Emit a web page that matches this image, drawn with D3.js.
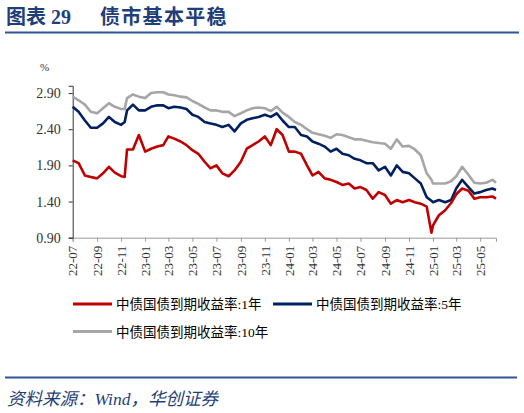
<!DOCTYPE html>
<html>
<head>
<meta charset="utf-8">
<script src="https://cdn.jsdelivr.net/npm/d3@7"></script>
<style>
  body { margin: 0; background: #fff; }
  svg { display: block; }
</style>
</head>
<body>
<svg id="chart"></svg>
<script>
// semi-monthly readings (plus a couple of turning points)
const dates = [
  '2022-07-01', '2022-07-16', '2022-08-01', '2022-08-16', '2022-09-01', '2022-09-16',
  '2022-10-01', '2022-10-16', '2022-11-01', '2022-11-10', '2022-11-16', '2022-12-01',
  '2022-12-16', '2023-01-01', '2023-01-16', '2023-02-01', '2023-02-16', '2023-03-01',
  '2023-03-16', '2023-04-01', '2023-04-16', '2023-05-01', '2023-05-16', '2023-06-01',
  '2023-06-16', '2023-07-01', '2023-07-16', '2023-08-01', '2023-08-16', '2023-09-01',
  '2023-09-16', '2023-10-01', '2023-10-16', '2023-11-01', '2023-11-16', '2023-12-01',
  '2023-12-16', '2024-01-01', '2024-01-16', '2024-02-01', '2024-02-16', '2024-03-01',
  '2024-03-16', '2024-04-01', '2024-04-16', '2024-05-01', '2024-05-16', '2024-06-01',
  '2024-06-16', '2024-07-01', '2024-07-16', '2024-08-01', '2024-08-16', '2024-09-01',
  '2024-09-16', '2024-10-01', '2024-10-16', '2024-11-01', '2024-11-16', '2024-12-01',
  '2024-12-16', '2024-12-28', '2025-01-01', '2025-01-16', '2025-02-01', '2025-02-16',
  '2025-03-01', '2025-03-16', '2025-04-01', '2025-04-16', '2025-05-01', '2025-05-16',
  '2025-06-01', '2025-06-10'
];

const y1 = [
  1.97, 1.93, 1.76, 1.74, 1.72, 1.79,
  1.88, 1.80, 1.75, 1.74, 2.12, 2.12,
  2.32, 2.09, 2.13, 2.16, 2.18, 2.30,
  2.27, 2.23, 2.18, 2.11, 2.06, 1.95,
  1.86, 1.90, 1.79, 1.75, 1.83, 1.95,
  2.13, 2.18, 2.23, 2.30, 2.18, 2.40,
  2.32, 2.09, 2.09, 2.06, 1.90, 1.76,
  1.81, 1.72, 1.70, 1.67, 1.63, 1.65,
  1.58, 1.60, 1.56, 1.44, 1.53, 1.49,
  1.37, 1.42, 1.39, 1.42, 1.39, 1.37,
  1.33, 0.97, 1.07, 1.21, 1.28, 1.38,
  1.50, 1.58, 1.55, 1.44, 1.46, 1.46,
  1.47, 1.44
];

const y5 = [
  2.71, 2.64, 2.52, 2.42, 2.42, 2.48,
  2.57, 2.50, 2.46, 2.50, 2.66, 2.74,
  2.66, 2.66, 2.71, 2.73, 2.73, 2.69,
  2.71, 2.70, 2.68, 2.60, 2.57, 2.50,
  2.48, 2.46, 2.43, 2.46, 2.37, 2.48,
  2.53, 2.55, 2.57, 2.60, 2.57, 2.62,
  2.52, 2.43, 2.43, 2.32, 2.30, 2.23,
  2.20, 2.16, 2.09, 2.13, 2.06, 2.04,
  1.99, 1.97, 1.93, 1.93, 1.83, 1.88,
  1.76, 1.90, 1.81, 1.79, 1.72, 1.65,
  1.46, 1.41, 1.39, 1.42, 1.39, 1.42,
  1.58, 1.70, 1.60, 1.51, 1.53, 1.56,
  1.58, 1.56
];

const y10 = [
  2.85, 2.80, 2.74, 2.64, 2.62, 2.69,
  2.76, 2.71, 2.68, 2.68, 2.83, 2.88,
  2.85, 2.83, 2.90, 2.91, 2.91, 2.88,
  2.87, 2.85, 2.84, 2.79, 2.75, 2.70,
  2.66, 2.66, 2.64, 2.64, 2.58, 2.62,
  2.66, 2.69, 2.70, 2.69, 2.65, 2.71,
  2.63, 2.57, 2.50, 2.46, 2.40, 2.35,
  2.33, 2.31, 2.28, 2.33, 2.32, 2.29,
  2.26, 2.26, 2.24, 2.22, 2.21, 2.20,
  2.13, 2.26, 2.16, 2.17, 2.12, 2.04,
  1.79, 1.70, 1.65, 1.65, 1.65, 1.68,
  1.75, 1.88, 1.77, 1.66, 1.65, 1.66,
  1.70, 1.66
];

const seriesNames = ['中债国债到期收益率:1年', '中债国债到期收益率:5年', '中债国债到期收益率:10年'];
const seriesColors = ['#C00000', '#002060', '#A6A6A6'];
const yTicks = [0.90, 1.40, 1.90, 2.40, 2.90];

const width = 524;
const height = 413;
const serif = '"Liberation Serif", "Noto Sans CJK SC", serif';
const navy = '#1F3F7A';

const svg = d3.select('#chart')
  .attr('width', width)
  .attr('height', height)
  .style('background', '#fff');

// title + rules
svg.append('text')
  .attr('x', 6).attr('y', 24)
  .attr('font-family', serif).attr('font-size', 20).attr('font-weight', 'bold')
  .attr('fill', navy)
  .text('图表 29');
svg.append('text')
  .attr('x', 100).attr('y', 24)
  .attr('font-family', serif).attr('font-size', 20).attr('font-weight', 'bold')
  .attr('letter-spacing', 1.3)
  .attr('fill', navy)
  .text('债市基本平稳');
svg.append('line')
  .attr('x1', 5).attr('x2', 519).attr('y1', 32.5).attr('y2', 32.5)
  .attr('stroke', '#2F5597').attr('stroke-width', 2);
svg.append('line')
  .attr('x1', 5).attr('x2', 517).attr('y1', 377.5).attr('y2', 377.5)
  .attr('stroke', '#2F5597').attr('stroke-width', 2);
svg.append('text')
  .attr('x', 7).attr('y', 405)
  .attr('font-family', serif).attr('font-size', 17.5).attr('font-style', 'italic')
  .attr('fill', navy)
  .text('资料来源：Wind，华创证券');

svg.append('text')
  .attr('x', 40).attr('y', 71)
  .attr('font-family', serif).attr('font-size', 11)
  .attr('fill', '#333')
  .text('%');

// scales
const parse = d3.timeParse('%Y-%m-%d');
const dateVals = dates.map(parse);

const xScale = d3.scaleTime()
  .domain([parse('2022-07-01'), parse('2025-06-10')])
  .range([72.7, 496]);

const yScale = d3.scaleLinear()
  .domain([0.9, 3.0])
  .range([237.7, 85.8]);

// axes
const xAxis = svg.append('g')
  .attr('transform', `translate(0,${yScale(0.9)})`)
  .call(d3.axisBottom(xScale)
    .ticks(d3.timeMonth.every(2))
    .tickFormat(d3.timeFormat('%y-%m'))
    .tickSizeOuter(0)
    .tickSize(4));
xAxis.select('.domain').attr('stroke', '#999');
xAxis.selectAll('.tick line').attr('stroke', '#999');
xAxis.selectAll('text')
  .attr('transform', 'rotate(-90)')
  .attr('x', -8).attr('y', 0).attr('dy', '0.32em')
  .style('text-anchor', 'end')
  .attr('font-family', serif).attr('font-size', 13)
  .attr('fill', '#333');

const yAxis = svg.append('g')
  .attr('transform', `translate(${xScale.range()[0]},0)`)
  .call(d3.axisLeft(yScale)
    .tickValues(yTicks)
    .tickFormat(d3.format('.2f'))
    .tickSizeOuter(0)
    .tickSize(4)
    .tickPadding(8));
yAxis.select('.domain').attr('stroke', '#333');
yAxis.selectAll('.tick line').attr('stroke', '#333');
yAxis.selectAll('text')
  .attr('font-family', serif).attr('font-size', 14)
  .attr('fill', '#333');

// lines (10Y drawn first so red sits on top)
const allSeries = [y1, y5, y10];
const line = d3.line()
  .x((d, i) => xScale(dateVals[i]))
  .y(d => yScale(d));

[2, 1, 0].forEach(k => {
  svg.append('path')
    .datum(allSeries[k])
    .attr('fill', 'none')
    .attr('stroke', seriesColors[k])
    .attr('stroke-width', 2.6)
    .attr('stroke-linejoin', 'round')
    .attr('d', line);
});

// legend
const legendPos = [[73, 304], [273, 304], [73, 331.5]];
seriesNames.forEach((name, k) => {
  const [lx, ly] = legendPos[k];
  const g = svg.append('g').attr('transform', `translate(${lx},${ly})`);
  g.append('line')
    .attr('x1', 0).attr('x2', 39).attr('y1', 0).attr('y2', 0)
    .attr('stroke', seriesColors[k]).attr('stroke-width', 3);
  g.append('text')
    .attr('x', 43).attr('y', 5)
    .attr('font-family', serif).attr('font-size', 13.5)
    .attr('fill', '#000')
    .text(name);
});
</script>
</body>
</html>
